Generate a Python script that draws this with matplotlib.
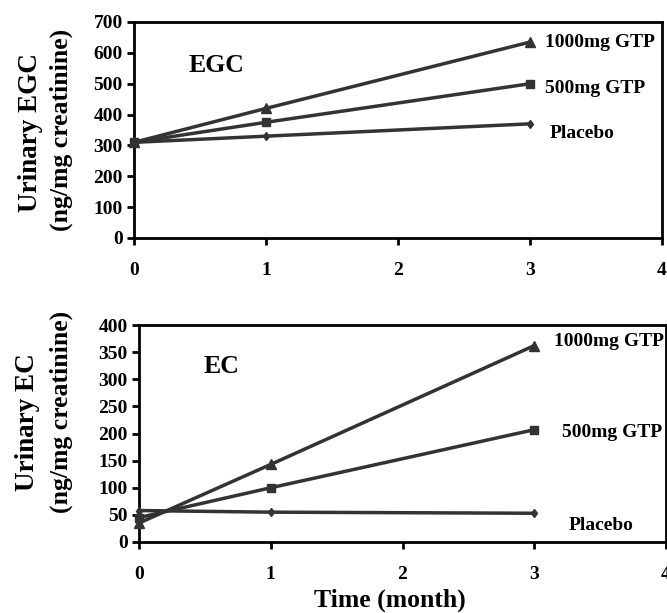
import matplotlib
matplotlib.use("Agg")
import matplotlib.pyplot as plt

months = [0, 1, 3]
egc_1000 = [310, 420, 635]
egc_500 = [310, 375, 500]
egc_placebo = [310, 330, 370]
ec_1000 = [35, 143, 362]
ec_500 = [45, 100, 207]
ec_placebo = [58, 55, 53]
series_labels = ["1000mg GTP", "500mg GTP", "Placebo"]

plt.rcParams['font.family'] = ['Liberation Serif', 'DejaVu Serif']
plt.rcParams['font.weight'] = 'bold'

W, H = 667, 613
fig = plt.figure(figsize=(W / 100, H / 100), dpi=100)

def px_axes(l, r, t, b):
    return fig.add_axes([l / W, 1 - b / H, (r - l) / W, (b - t) / H])

ax1 = px_axes(134, 662, 22, 238)
ax2 = px_axes(139, 666, 325, 542)

col = '#333333'
markers = ['^', 's', 'd']
msizes = [7, 6, 4.5]

def style(ax, ymax, ystep):
    ax.set_xlim(0, 4)
    ax.set_ylim(0, ymax)
    ax.set_xticks([0, 1, 2, 3, 4])
    ax.set_yticks(range(0, ymax + 1, ystep))
    for s in ax.spines.values():
        s.set_linewidth(2)
        s.set_color('black')
    ax.tick_params(axis='y', direction='out', length=5, width=2, labelsize=14, pad=3)
    ax.tick_params(axis='x', direction='out', length=5, width=2, labelsize=14, pad=12)
    for lab in ax.get_xticklabels() + ax.get_yticklabels():
        lab.set_fontweight('bold')

for ax, data in [(ax1, [egc_1000, egc_500, egc_placebo]), (ax2, [ec_1000, ec_500, ec_placebo])]:
    for vals, m, ms in zip(data, markers, msizes):
        ax.plot(months, vals, color=col, lw=2.5, marker=m, ms=ms, mfc=col, mec=col,
                clip_on=False, zorder=3)

style(ax1, 700, 100)
style(ax2, 400, 50)

fig.text(31 / W, 1 - 133 / H, 'Urinary EGC', rotation=90, ha='center', va='center',
         fontsize=19.5, fontweight='bold')
fig.text(61 / W, 1 - 130 / H, '(ng/mg creatinine)', rotation=90, ha='center', va='center',
         fontsize=18.5, fontweight='bold')
fig.text(28 / W, 1 - 422 / H, 'Urinary EC', rotation=90, ha='center', va='center',
         fontsize=19.5, fontweight='bold')
fig.text(61 / W, 1 - 412 / H, '(ng/mg creatinine)', rotation=90, ha='center', va='center',
         fontsize=18.5, fontweight='bold')

ax1.text(0.41, 560, 'EGC', fontsize=18.5, fontweight='bold', ha='left', va='center')
ax2.text(0.49, 323, 'EC', fontsize=18.5, fontweight='bold', ha='left', va='center')

top_pos = [(3.11, 635), (3.11, 486), (3.15, 340)]
bot_pos = [(3.15, 369), (3.21, 201), (3.26, 31)]
for lab, (x, y) in zip(series_labels, top_pos):
    ax1.text(x, y, lab, fontsize=14, fontweight='bold', ha='left', va='center', clip_on=False)
for lab, (x, y) in zip(series_labels, bot_pos):
    ax2.text(x, y, lab, fontsize=14, fontweight='bold', ha='left', va='center', clip_on=False)

fig.text(390 / W, 1 - 600 / H, 'Time (month)', ha='center', va='center',
         fontsize=18.5, fontweight='bold')

fig.savefig('out.png', dpi=100)
